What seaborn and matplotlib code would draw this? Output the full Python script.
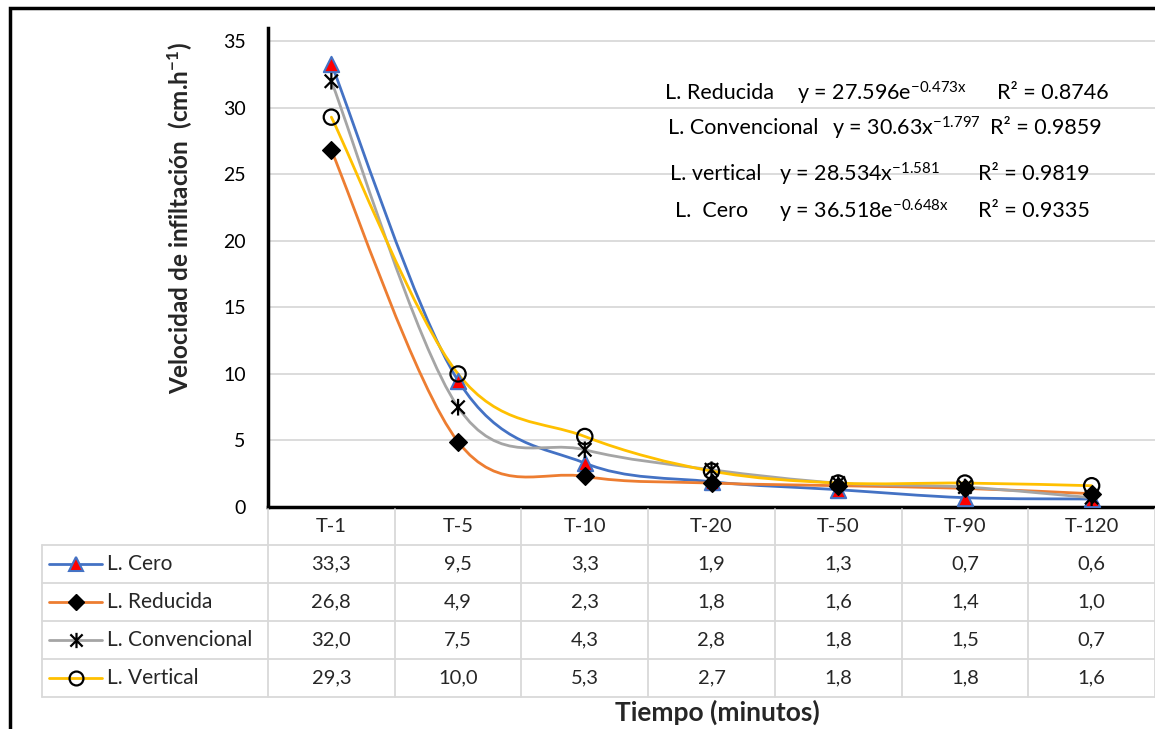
import numpy as np
import pandas as pd
import matplotlib.pyplot as plt
import seaborn as sns
from matplotlib.path import Path
from matplotlib.patches import PathPatch, Rectangle
from matplotlib.lines import Line2D

sns.set_theme(style="whitegrid")
plt.rcParams['font.family'] = ['Lato', 'DejaVu Sans']
plt.rcParams['mathtext.fontset'] = 'custom'
plt.rcParams['mathtext.rm'] = 'Lato'
plt.rcParams['mathtext.bf'] = 'Lato:bold'
plt.rcParams['mathtext.default'] = 'regular'

# data
tiempos = ["T-1", "T-5", "T-10", "T-20", "T-50", "T-90", "T-120"]
cero = [33.3, 9.5, 3.3, 1.9, 1.3, 0.7, 0.6]
reducida = [26.8, 4.9, 2.3, 1.8, 1.6, 1.4, 1.0]
convencional = [32.0, 7.5, 4.3, 2.8, 1.8, 1.5, 0.7]
vertical = [29.3, 10.0, 5.3, 2.7, 1.8, 1.8, 1.6]
nombres = ["L. Cero", "L. Reducida", "L. Convencional", "L. Vertical"]

W, H = 1155, 729
def fx(x): return x / W
def fy(y): return 1 - y / H

# asterisk marker (x with vertical bar)
ast = Path([(-1, -1), (1, 1), (-1, 1), (1, -1), (0, -1.25), (0, 1.25)],
           [Path.MOVETO, Path.LINETO, Path.MOVETO, Path.LINETO, Path.MOVETO, Path.LINETO])

estilos = [
    dict(color="#4472C4", marker="^", mfc="red", mec="#4472C4", ms=11, mew=1.5),
    dict(color="#ED7D31", marker="D", mfc="black", mec="black", ms=9, mew=1),
    dict(color="#A5A5A5", marker=ast, mfc="none", mec="black", ms=12, mew=1.6),
    dict(color="#FFC000", marker="o", mfc="none", mec="black", ms=11, mew=1.6),
]
series = [cero, reducida, convencional, vertical]

df = pd.DataFrame({"pos": np.arange(len(tiempos)), "tiempo": tiempos})

fig = plt.figure(figsize=(W / 100, H / 100), dpi=100)
ax = fig.add_axes([fx(268), fy(507), 1 - fx(268), fy(28) - fy(507)])


def smooth_path(xs, ys):
    # Excel style smoothed line: cubic bezier through the points
    pts = np.column_stack([xs, ys])
    n = len(pts)
    verts = [tuple(pts[0])]
    codes = [Path.MOVETO]
    for i in range(n - 1):
        p0 = pts[i - 1] if i > 0 else pts[i]
        p1, p2 = pts[i], pts[i + 1]
        p3 = pts[i + 2] if i + 2 < n else pts[i + 1]
        c1 = p1 + (p2 - p0) / 6
        c2 = p2 - (p3 - p1) / 6
        verts += [tuple(c1), tuple(c2), tuple(p2)]
        codes += [Path.CURVE4] * 3
    return Path(verts, codes)


for vals, st in zip(series, estilos):
    ax.add_patch(PathPatch(smooth_path(df["pos"], vals), fill=False,
                           edgecolor=st["color"], lw=2.0, zorder=3, capstyle="round"))
for vals, st in zip(series, estilos):
    sns.scatterplot(x=df["pos"], y=vals, marker=st["marker"], s=st["ms"] ** 2,
                    facecolor=st["mfc"], edgecolor=st["mec"], linewidth=st["mew"],
                    ax=ax, zorder=4, legend=False)

ax.set_xlim(-0.5, 6.5)
ax.set_ylim(0, 36)
ax.set_yticks(range(0, 36, 5))
ax.set_xticks([])
ax.set_xlabel("")
ax.set_ylabel("")
ax.grid(axis="y", color="#D9D9D9", lw=1.3)
ax.grid(axis="x", visible=False)
ax.tick_params(axis="y", length=0, pad=16, labelsize=14, labelcolor="black")
for s in ["top", "right"]:
    ax.spines[s].set_visible(False)
for s in ["left", "bottom"]:
    ax.spines[s].set_color("black")
    ax.spines[s].set_linewidth(2.5)
ax.set_facecolor("white")

# trend line equations
eqs = [
    (93, [(665, "L. Reducida"), (797, "y = 27.596e$^{-0.473x}$"), (997, "R² = 0.8746")]),
    (128, [(668, "L. Convencional"), (832, "y = 30.63x$^{-1.797}$"), (990, "R² = 0.9859")]),
    (174, [(670, "L. vertical"), (779, "y = 28.534x$^{-1.581}$"), (978, "R² = 0.9819")]),
    (211, [(675, "L.  Cero"), (779, "y = 36.518e$^{-0.648x}$"), (978, "R² = 0.9335")]),
]
for y, parts in eqs:
    for x, t in parts:
        fig.text(fx(x), fy(y), t, fontsize=15.5, ha="left", va="center", color="black")

# data table
grid_c = "#D9D9D9"
colw = (W - 268) / 7
rows_y = [545, 583, 621, 659, 697]
for y in rows_y:
    fig.add_artist(Line2D([fx(42), 1], [fy(y), fy(y)], color=grid_c, lw=1.3))
fig.add_artist(Line2D([fx(42), fx(42)], [fy(545), fy(697)], color=grid_c, lw=1.3))
for k in range(8):
    x = 268 + k * colw
    fig.add_artist(Line2D([fx(x), fx(x)], [fy(509), fy(697)], color=grid_c, lw=1.3))
for k, t in enumerate(tiempos):
    fig.text(fx(268 + (k + 0.5) * colw), fy(526), t, fontsize=14.5, ha="center", va="center")
for r, (nom, vals, st) in enumerate(zip(nombres, series, estilos)):
    yc = (rows_y[r] + rows_y[r + 1]) / 2
    fig.add_artist(Line2D([fx(49), fx(102)], [fy(yc), fy(yc)], color=st["color"], lw=2.0))
    fig.add_artist(Line2D([fx(76)], [fy(yc)], marker=st["marker"], ms=st["ms"] - 1,
                          mfc=st["mfc"], mec=st["mec"], mew=st["mew"], lw=0))
    fig.text(fx(107), fy(yc), nom, fontsize=15, ha="left", va="center")
    for k, v in enumerate(vals):
        fig.text(fx(268 + (k + 0.5) * colw), fy(yc), f"{v:.1f}".replace(".", ","),
                 fontsize=14.5, ha="center", va="center")

# titles
fig.text(fx(180), fy(218), "Velocidad de infiltación  (cm.h$^{\\mathbf{-1}}$)", rotation=90,
         fontsize=17.5, fontweight="bold", ha="center", va="center")
fig.text(fx(717), fy(712), "Tiempo (minutos)", fontsize=19, fontweight="bold",
         ha="center", va="center")

# outer frame
fig.add_artist(Rectangle((fx(10), -0.1), 1.2, fy(8) + 0.1, fill=False,
                         edgecolor="black", lw=2.5, transform=fig.transFigure))

fig.savefig("out.png", dpi=100)
